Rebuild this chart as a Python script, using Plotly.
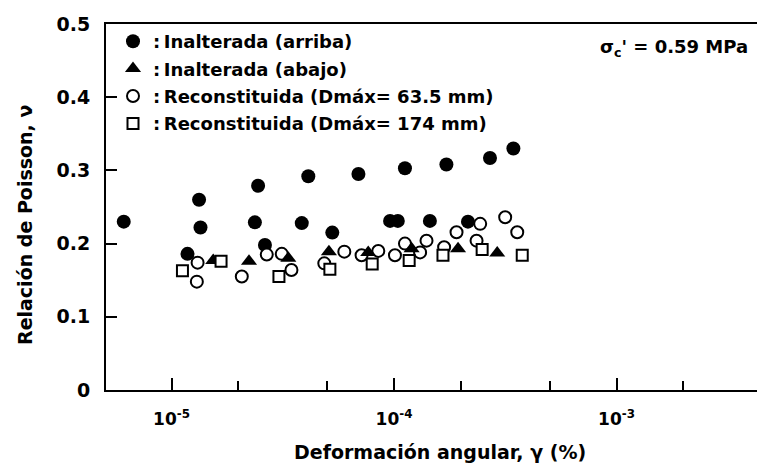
import plotly.graph_objects as go

# ---------------- data ----------------
# Inalterada (arriba) - filled circles
ARRIBA_X = [6.1e-6, 1.33e-5, 1.35e-5, 1.18e-5, 2.45e-5, 4.12e-5, 2.37e-5, 3.85e-5, 5.28e-5, 2.63e-5,
            6.92e-5, 1.12e-4, 1.72e-4, 9.6e-5, 1.04e-4, 1.45e-4, 2.15e-4, 2.7e-4, 3.44e-4]
ARRIBA_Y = [0.230, 0.260, 0.222, 0.186, 0.279, 0.292, 0.229, 0.228, 0.215, 0.198,
            0.295, 0.303, 0.308, 0.231, 0.231, 0.231, 0.230, 0.317, 0.330]

# Inalterada (abajo) - filled triangles
ABAJO_X = [1.54e-5, 2.23e-5, 3.35e-5, 5.1e-5, 7.66e-5, 1.2e-4, 1.94e-4, 2.91e-4]
ABAJO_Y = [0.177, 0.176, 0.180, 0.189, 0.188, 0.193, 0.193, 0.187]

# Reconstituida (Dmax = 63.5 mm) - open circles
REC63_X = [1.31e-5, 1.30e-5, 2.68e-5, 2.07e-5, 3.13e-5, 3.46e-5, 4.86e-5, 5.98e-5, 7.15e-5, 8.5e-5,
           1.01e-4, 1.12e-4, 1.31e-4, 1.40e-4, 1.68e-4, 1.91e-4, 2.35e-4, 2.44e-4, 3.16e-4, 3.58e-4]
REC63_Y = [0.174, 0.148, 0.185, 0.155, 0.186, 0.164, 0.173, 0.189, 0.184, 0.190,
           0.184, 0.200, 0.188, 0.204, 0.195, 0.2155, 0.204, 0.227, 0.236, 0.2155]

# Reconstituida (Dmax = 174 mm) - open squares
REC174_X = [1.12e-5, 1.67e-5, 3.04e-5, 5.15e-5, 7.98e-5, 1.17e-4, 1.66e-4, 2.49e-4, 3.77e-4]
REC174_Y = [0.163, 0.176, 0.155, 0.165, 0.172, 0.177, 0.184, 0.192, 0.184]

SERIES_NAMES = ["Inalterada (arriba)", "Inalterada (abajo)",
                "Reconstituida (Dmáx= 63.5 mm)", "Reconstituida (Dmáx= 174 mm)"]

X_TICK_VALS = [1e-5, 1e-4, 1e-3]
X_TICK_TEXT = ["10<sup>-5</sup>", "10<sup>-4</sup>", "10<sup>-3</sup>"]
X_MINOR_VALS = [2e-5, 5e-5, 2e-4, 5e-4, 2e-3]
Y_TICK_VALS = [0, 0.1, 0.2, 0.3, 0.4, 0.5]
Y_TICK_TEXT = ["0", "0.1", "0.2", "0.3", "0.4", "0.5"]

X_TITLE = "Deformación angular, γ (%)"
Y_TITLE = "Relación de Poisson, ν"
NOTE = "σ<sub>c</sub>' = 0.59 MPa"

# ---------------- layout geometry ----------------
FONT = "DejaVu Sans"
OFF = 8                      # page body margin of the browser
W, H = 765 - OFF, 466 - OFF
PLOT_L, PLOT_R, PLOT_T, PLOT_B = 106, 765, 24, 390   # target page pixels
ML, MR, MT = PLOT_L - OFF, 765 - PLOT_R, PLOT_T - OFF
MB = H - (PLOT_B - OFF)
PW, PH = W - ML - MR, H - MT - MB
DECADE_PX = 222.5


def px(xp):
    return (xp - PLOT_L) / PW


def py(yp):
    return (PLOT_B - yp) / PH


SEP = ":\u2009"
fig = go.Figure()


def add(name, xs, ys, symbol, size, fill, lw, rank):
    fig.add_trace(go.Scatter(
        x=xs, y=ys, mode="markers", name=SEP + name,
        legendrank=rank, legendgroup=name,
        marker=dict(symbol=symbol, size=size, color=fill,
                    line=dict(color="black", width=lw)),
        hoverinfo="x+y",
    ))


add(SERIES_NAMES[0], ARRIBA_X, ARRIBA_Y, "circle", 14, "black", 0, 1)
add(SERIES_NAMES[2], REC63_X, REC63_Y, "circle", 12, "white", 2, 3)
add(SERIES_NAMES[1], ABAJO_X, ABAJO_Y, "triangle-up", 14, "black", 0, 2)
add(SERIES_NAMES[3], REC174_X, REC174_Y, "square", 11, "white", 2, 4)

fig.update_layout(
    width=W, height=H,
    margin=dict(l=ML, r=MR, t=MT, b=MB, pad=0),
    paper_bgcolor="white", plot_bgcolor="white",
    font=dict(family=FONT, size=18, color="black", weight="bold"),
    showlegend=True,
    legend=dict(
        x=px(113), y=py(23),
        xanchor="left", yanchor="top",
        bgcolor="rgba(0,0,0,0)", borderwidth=0,
        font=dict(family=FONT, size=18, color="black", weight="bold"),
        tracegroupgap=1, itemsizing="trace",
    ),
    xaxis=dict(
        type="log",
        range=[-5 - (171.5 - PLOT_L) / DECADE_PX, -5 + (PLOT_R - 171.5) / DECADE_PX],
        showgrid=False, zeroline=False,
        showline=True, linecolor="black", linewidth=2, mirror=True,
        ticks="inside", ticklen=12, tickwidth=2, tickcolor="black",
        tickmode="array", tickvals=X_TICK_VALS, ticktext=X_TICK_TEXT,
        tickfont=dict(family=FONT, size=17, color="black", weight="bold"),
        ticklabelstandoff=13,
        minor=dict(tickmode="array", tickvals=X_MINOR_VALS, ticks="inside",
                   ticklen=9, tickwidth=2, tickcolor="black", showgrid=False),
    ),
    yaxis=dict(
        range=[0, 0.5],
        showgrid=False, zeroline=False,
        showline=True, linecolor="black", linewidth=2, mirror=False,
        ticks="inside", ticklen=11, tickwidth=2, tickcolor="black",
        tickmode="array", tickvals=Y_TICK_VALS, ticktext=Y_TICK_TEXT,
        tickfont=dict(family=FONT, size=19, color="black", weight="bold"),
        ticklabelstandoff=10,
    ),
    annotations=[
        dict(text=X_TITLE, xref="paper", yref="paper",
             x=px(440), y=py(452),
             xanchor="center", yanchor="middle", showarrow=False,
             font=dict(family=FONT, size=19, color="black", weight="bold")),
        dict(text=Y_TITLE, xref="paper", yref="paper", textangle=-90,
             x=px(25), y=py(225),
             xanchor="center", yanchor="middle", showarrow=False,
             font=dict(family=FONT, size=19, color="black", weight="bold")),
        dict(text=NOTE, xref="paper", yref="paper",
             x=px(750), y=py(48),
             xanchor="right", yanchor="middle", showarrow=False,
             font=dict(family=FONT, size=18, color="black", weight="bold")),
    ],
)

fig.write_html("out.html")
